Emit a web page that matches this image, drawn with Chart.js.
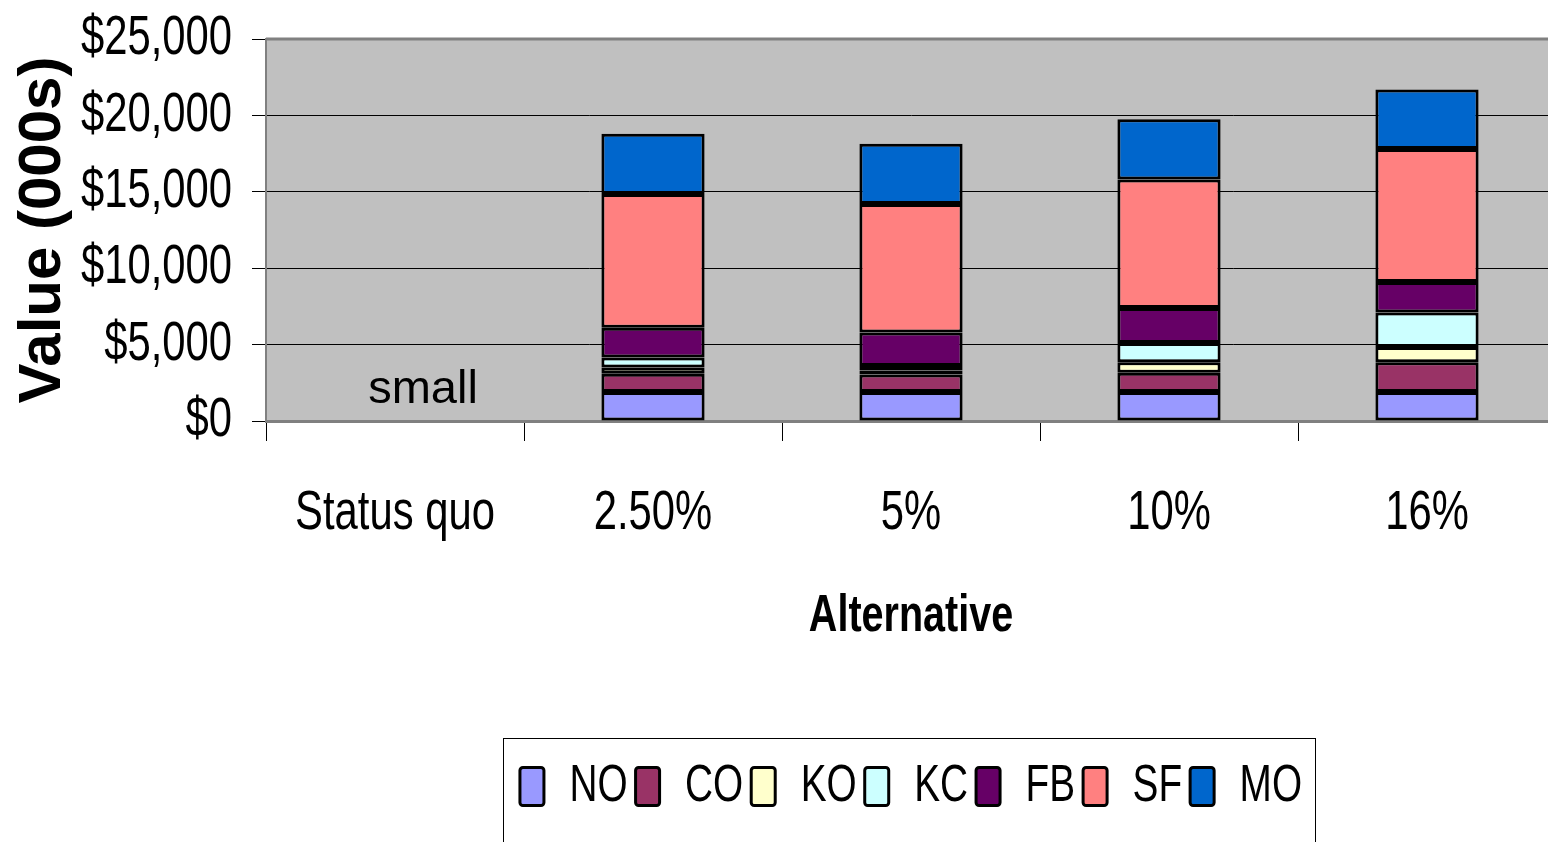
<!DOCTYPE html>
<html>
<head>
<meta charset="utf-8">
<script src="https://cdn.jsdelivr.net/npm/chart.js@4/dist/chart.umd.min.js"></script>
<style>
  html, body { margin: 0; padding: 0; background: #fff; overflow: hidden; }
  #wrap { width: 1560px; height: 842px; }
</style>
</head>
<body>
<div id="wrap"><canvas id="c" width="1560" height="842"></canvas></div>
<script>
// Alternatives on the x axis
const alternatives = ['Status quo', '2.50%', '5%', '10%', '16%'];

// Value by component, in $000s (status quo values are too small to show)
const NO = [null, 1900, 1900, 1900, 1900];
const CO = [null, 1200, 1150, 1250, 1950];
const KO = [null, 400, 250, 700, 1000];
const KC = [null, 650, 300, 1250, 2250];
const FB = [null, 1950, 2200, 2300, 2000];
const SF = [null, 8750, 8400, 8400, 8700];
const MO = [null, 3950, 3950, 3950, 3900];

const yTickLabels = ['$0', '$5,000', '$10,000', '$15,000', '$20,000', '$25,000'];
const statusQuoNote = 'small';

const NARROW = '"Liberation Sans Narrow", "Liberation Sans", Arial, sans-serif';
const REGULAR = '"Liberation Sans", Arial, sans-serif';

Chart.defaults.font.family = NARROW;
Chart.defaults.color = '#000';

const series = [
  { label: 'NO', data: NO, color: '#9999FF' },
  { label: 'CO', data: CO, color: '#993366' },
  { label: 'KO', data: KO, color: '#FFFFCC' },
  { label: 'KC', data: KC, color: '#CCFFFF' },
  { label: 'FB', data: FB, color: '#660066' },
  { label: 'SF', data: SF, color: '#FF8080' },
  { label: 'MO', data: MO, color: '#0066CC' }
];

// Narrow text: squeeze glyphs horizontally so the face reads like Arial Narrow,
// whatever sans face ends up being used.
function installNarrowText(ctx, target) {
  const fill = ctx.fillText.bind(ctx);
  const measure = ctx.measureText.bind(ctx);
  ctx.save();
  ctx.font = '100px ' + NARROW;
  const wn = measure('Status quo $25,000').width;
  ctx.font = '100px ' + REGULAR;
  const wr = measure('Status quo $25,000').width;
  ctx.restore();
  const factor = target * wr / wn;
  const isNarrow = c => c.font.indexOf('Narrow') !== -1;
  ctx.fillText = function (text, x, y, maxWidth) {
    if (!isNarrow(this)) return fill(text, x, y, maxWidth);
    this.save();
    this.translate(x, y);
    this.scale(factor, 1);
    fill(text, 0, 0);
    this.restore();
  };
  ctx.measureText = function (text) {
    const m = measure(text);
    if (!isNarrow(this)) return m;
    return {
      width: m.width * factor,
      actualBoundingBoxLeft: m.actualBoundingBoxLeft * factor,
      actualBoundingBoxRight: m.actualBoundingBoxRight * factor,
      actualBoundingBoxAscent: m.actualBoundingBoxAscent,
      actualBoundingBoxDescent: m.actualBoundingBoxDescent,
      fontBoundingBoxAscent: m.fontBoundingBoxAscent,
      fontBoundingBoxDescent: m.fontBoundingBoxDescent
    };
  };
}

// Grey plot background, frame, status-quo note and the legend frame
const plotDecor = {
  id: 'plotDecor',
  beforeDraw(chart) {
    const { ctx, chartArea: a } = chart;
    ctx.save();
    ctx.fillStyle = '#C0C0C0';
    ctx.fillRect(a.left, a.top, a.right - a.left + 4, a.bottom - a.top);
    ctx.restore();
  },
  beforeDatasetsDraw(chart) {
    const { ctx, chartArea: a } = chart;
    ctx.save();
    ctx.strokeStyle = '#808080';
    ctx.lineWidth = 3;
    ctx.beginPath();
    ctx.moveTo(a.left, a.top);
    ctx.lineTo(a.right + 4, a.top);
    ctx.stroke();
    ctx.restore();
  },
  afterDatasetsDraw(chart) {
    const { ctx } = chart;
    const x = chart.scales.x.getPixelForValue(0) + 28;
    const y = chart.scales.y.getPixelForValue(0) - 18;
    ctx.save();
    ctx.font = '47px ' + REGULAR;
    ctx.fillStyle = '#000';
    ctx.textAlign = 'center';
    ctx.textBaseline = 'alphabetic';
    ctx.fillText(statusQuoNote, x, y);
    ctx.restore();
  },
  afterDraw(chart) {
    const lg = chart.legend;
    if (!lg || !lg.legendHitBoxes || !lg.legendHitBoxes.length) return;
    const hb = lg.legendHitBoxes;
    const left = Math.min(...hb.map(h => h.left)) - 17;
    const right = Math.max(...hb.map(h => h.left + h.width)) + 13;
    const top = lg.top - 15;
    const { ctx } = chart;
    ctx.save();
    ctx.strokeStyle = '#000';
    ctx.lineWidth = 1;
    ctx.strokeRect(Math.round(left) + 0.5, Math.round(top) + 0.5, Math.round(right - left), 200);
    ctx.restore();
  }
};

const canvas = document.getElementById('c');
installNarrowText(canvas.getContext('2d'), 0.76);

new Chart(canvas, {
  type: 'bar',
  data: {
    labels: alternatives,
    datasets: series.map(s => ({
      label: s.label,
      data: s.data,
      backgroundColor: s.color,
      borderColor: '#000',
      borderWidth: 3,
      borderSkipped: false,
      barPercentage: 0.4,
      categoryPercentage: 1
    }))
  },
  options: {
    responsive: false,
    animation: false,
    devicePixelRatio: 1,
    layout: { padding: { top: 39, right: 4, left: 0, bottom: 20 } },
    plugins: {
      legend: {
        position: 'bottom',
        fullSize: false,
        align: 'center',
        labels: {
          boxWidth: 24,
          boxHeight: 38,
          padding: 8,
          font: { size: 51 },
          color: '#000',
          useBorderRadius: true,
          borderRadius: 3
        }
      },
      tooltip: { enabled: false }
    },
    scales: {
      x: {
        stacked: true,
        offset: true,
        grid: { offset: true, drawOnChartArea: false, color: '#000', tickLength: 20, lineWidth: 1 },
        border: { color: '#808080', width: 3 },
        ticks: { font: { size: 55 }, color: '#000', padding: 40, maxRotation: 0, autoSkip: false },
        title: {
          display: true,
          text: 'Alternative',
          font: { size: 52, weight: 'bold' },
          color: '#000',
          padding: { top: 0, bottom: 105 }
        },
        afterFit(scale) {
          scale.height = 332;
          scale.paddingLeft = 0;
          scale.paddingRight = 0;
        }
      },
      y: {
        stacked: true,
        min: 0,
        max: 25000,
        ticks: {
          stepSize: 5000,
          font: { size: 55 },
          color: '#000',
          padding: 20,
          callback: (v, i) => yTickLabels[i]
        },
        grid: { color: '#000', lineWidth: 1, tickLength: 14 },
        border: { color: '#808080', width: 2 },
        title: {
          display: true,
          text: 'Value (000s)',
          font: { size: 60, weight: 'bold', family: REGULAR },
          color: '#000',
          padding: { top: 7, bottom: 0 }
        },
        afterFit(scale) {
          scale.width = 266;
          scale.paddingTop = 0;
          scale.paddingBottom = 0;
        }
      }
    }
  },
  plugins: [plotDecor]
});
</script>
</body>
</html>
